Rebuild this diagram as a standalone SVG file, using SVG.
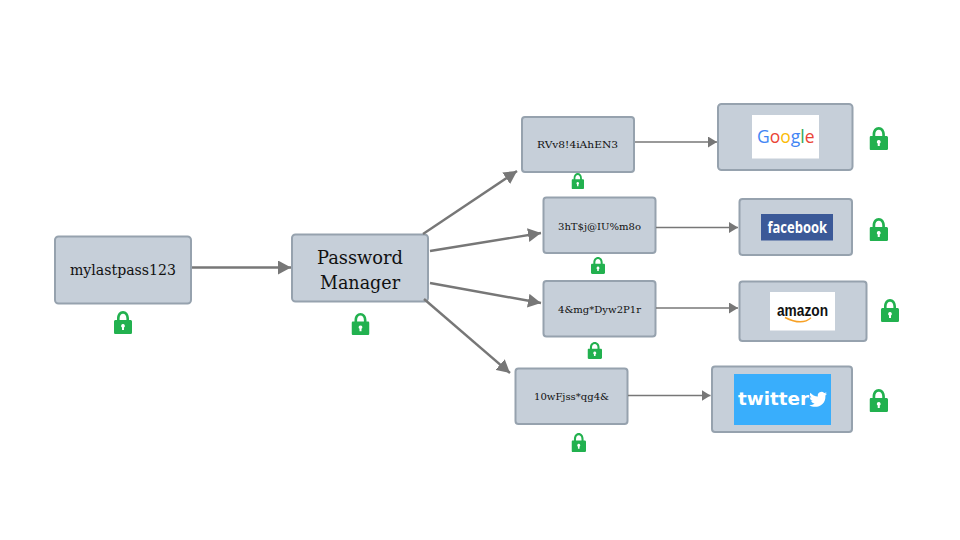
<svg xmlns="http://www.w3.org/2000/svg" width="960" height="540" viewBox="0 0 960 540">
<style>
.n{fill:#c6cfd9;stroke:#96a2ae;stroke-width:2}
.t{font-family:"DejaVu Serif",serif;fill:#111;text-anchor:start}
.b{font-size:14px}.s{font-size:10px}.m{font-size:18px}
.c line{stroke:#777;fill:none}
.w{stroke-width:2.400}.h{stroke-width:1.600}
.lk{fill:#22b14f}
</style>
<defs>
<marker id="a" markerUnits="userSpaceOnUse" markerWidth="14" markerHeight="14" refX="13" refY="7" orient="auto"><path d="M0 0L13 7L0 14Z" fill="#777"/></marker>
<marker id="a2" markerUnits="userSpaceOnUse" markerWidth="10" markerHeight="11" refX="9" refY="5.500" orient="auto"><path d="M0 0L9 5.500L0 11Z" fill="#777"/></marker>
<symbol id="lock" viewBox="0 0 18 23" preserveAspectRatio="none">
<path class="lk" fill-rule="evenodd" d="M3 9V7.500C3 3 5.600 0 9 0s6 3 6 7.500V9h1.400c.9 0 1.600.7 1.600 1.600v10.800c0 .9-.7 1.600-1.600 1.600H1.600C.7 23 0 22.300 0 21.400V10.600C0 9.700.7 9 1.600 9ZM5.600 9h6.800V7.500C12.400 4.700 11 2.700 9 2.700S5.600 4.700 5.600 7.500Z"/>
<path fill="#fff" d="M9 13a1.900 1.900 0 0 1 1 3.500V19H8v-2.500A1.900 1.900 0 0 1 9 13Z"/>
</symbol>
</defs>
<rect width="960" height="540" fill="#fff"/>
<g id="n-master"><rect class="n" x="55" y="236.500" width="136" height="67" rx="3.500"/><text class="t b" x="70" y="275" textLength="106" lengthAdjust="spacingAndGlyphs">mylastpass123</text><use href="#lock" x="114" y="311" width="18" height="23"/></g>
<g id="n-manager"><rect class="n" x="292" y="234.500" width="136" height="67" rx="3.500"/><text class="t m" x="317" y="264" textLength="86" lengthAdjust="spacingAndGlyphs">Password</text><text class="t m" x="320" y="289" textLength="80" lengthAdjust="spacingAndGlyphs">Manager</text><use href="#lock" x="351.500" y="313" width="18" height="22"/></g>
<g id="n-p1"><rect class="n" x="522" y="117" width="112" height="55" rx="3"/><text class="t s" x="537" y="148" textLength="81" lengthAdjust="spacingAndGlyphs">RVv8!4iAhEN3</text><use href="#lock" x="571.500" y="173" width="12.500" height="16"/></g>
<g id="n-p2"><rect class="n" x="543.500" y="197.500" width="112" height="55.500" rx="3"/><text class="t s" x="558" y="229.500" textLength="83" lengthAdjust="spacingAndGlyphs">3hT$j@IU%m8o</text><use href="#lock" x="591" y="257" width="14" height="17"/></g>
<g id="n-p3"><rect class="n" x="543.500" y="281" width="112" height="55.500" rx="3"/><text class="t s" x="558" y="312.500" textLength="83" lengthAdjust="spacingAndGlyphs">4&amp;mg*Dyw2P1r</text><use href="#lock" x="587.500" y="342" width="14.500" height="17"/></g>
<g id="n-p4"><rect class="n" x="515.500" y="368.500" width="112" height="55.500" rx="3"/><text class="t s" x="534" y="400" textLength="75" lengthAdjust="spacingAndGlyphs">10wFjss*qg4&amp;</text><use href="#lock" x="571.500" y="433" width="14.500" height="19"/></g>
<g id="n-google"><rect class="n" x="718" y="104" width="134.500" height="66" rx="3.500"/><rect x="752" y="115" width="67" height="43.500" fill="#fff"/><text font-family="'Open Sans',sans-serif" font-size="17.500" x="757" y="142.500"><tspan fill="#4285f4">G</tspan><tspan fill="#ea4335">o</tspan><tspan fill="#fbbc05">o</tspan><tspan fill="#4285f4">g</tspan><tspan fill="#34a853">l</tspan><tspan fill="#ea4335">e</tspan></text><use href="#lock" x="869.500" y="127" width="18.500" height="23"/></g>
<g id="n-facebook"><rect class="n" x="739.500" y="199" width="112.500" height="56" rx="3"/><rect x="761" y="214" width="72" height="26.500" fill="#3b5998"/><text font-family="'Open Sans',sans-serif" font-weight="700" font-size="15.500" fill="#fff" x="767.500" y="232.800" textLength="59.500" lengthAdjust="spacingAndGlyphs">facebook</text><use href="#lock" x="869.500" y="218" width="18.500" height="23"/></g>
<g id="n-amazon"><rect class="n" x="739.500" y="281.500" width="127" height="59.500" rx="3"/><rect x="770" y="292" width="65" height="38.500" fill="#fff"/><text font-family="'Liberation Sans',sans-serif" font-weight="700" font-size="16.500" fill="#111" x="777" y="315.500" textLength="51" lengthAdjust="spacingAndGlyphs">amazon</text><path d="M785 317.500Q802 326 811 317.800" fill="none" stroke="#f7a024" stroke-width="1.400"/><use href="#lock" x="881" y="299" width="18" height="23"/></g>
<g id="n-twitter"><rect class="n" x="712" y="366.500" width="140" height="65.500" rx="3"/><rect x="734" y="374" width="97" height="51" fill="#39aefc"/><text font-family="'DejaVu Sans',sans-serif" font-weight="700" font-size="18.500" fill="#fff" x="738" y="405" textLength="71" lengthAdjust="spacingAndGlyphs">twitter</text><path fill="#fff" d="M827 393.500c-.7.400-1.400.600-2.100.700.700-.500 1.300-1.100 1.600-2-.700.400-1.500.700-2.300.900a3.700 3.700 0 0 0-6.300 3.400c-3-.200-5.700-1.600-7.500-3.800-.900 1.700-.4 3.700 1.100 4.900-.600 0-1.100-.200-1.600-.400 0 1.800 1.200 3.300 2.900 3.700-.500.100-1.100.200-1.600.100.500 1.500 1.800 2.500 3.400 2.600-1.600 1.200-3.500 1.800-5.400 1.600 6.600 4 16.900.500 16.200-9.800.800-.600 1.400-1.200 1.600-1.900Z"/><use href="#lock" x="869.500" y="389" width="18.500" height="23"/></g>
<g id="connectors" class="c">
<line class="w" x1="192" y1="267.500" x2="291" y2="267.500" marker-end="url(#a)"/>
<line class="w" x1="423" y1="234" x2="517" y2="171" marker-end="url(#a)"/>
<line class="w" x1="430" y1="251" x2="541" y2="233" marker-end="url(#a)"/>
<line class="w" x1="430" y1="283" x2="541" y2="303" marker-end="url(#a)"/>
<line class="w" x1="424" y1="299" x2="510" y2="373" marker-end="url(#a)"/>
<line class="h" x1="635" y1="142" x2="717" y2="142" marker-end="url(#a2)"/>
<line class="h" x1="656" y1="227.500" x2="738" y2="227.500" marker-end="url(#a2)"/>
<line class="h" x1="656" y1="308" x2="738" y2="308" marker-end="url(#a2)"/>
<line class="h" x1="628" y1="395.500" x2="710.500" y2="395.500" marker-end="url(#a2)"/>
</g>
</svg>
